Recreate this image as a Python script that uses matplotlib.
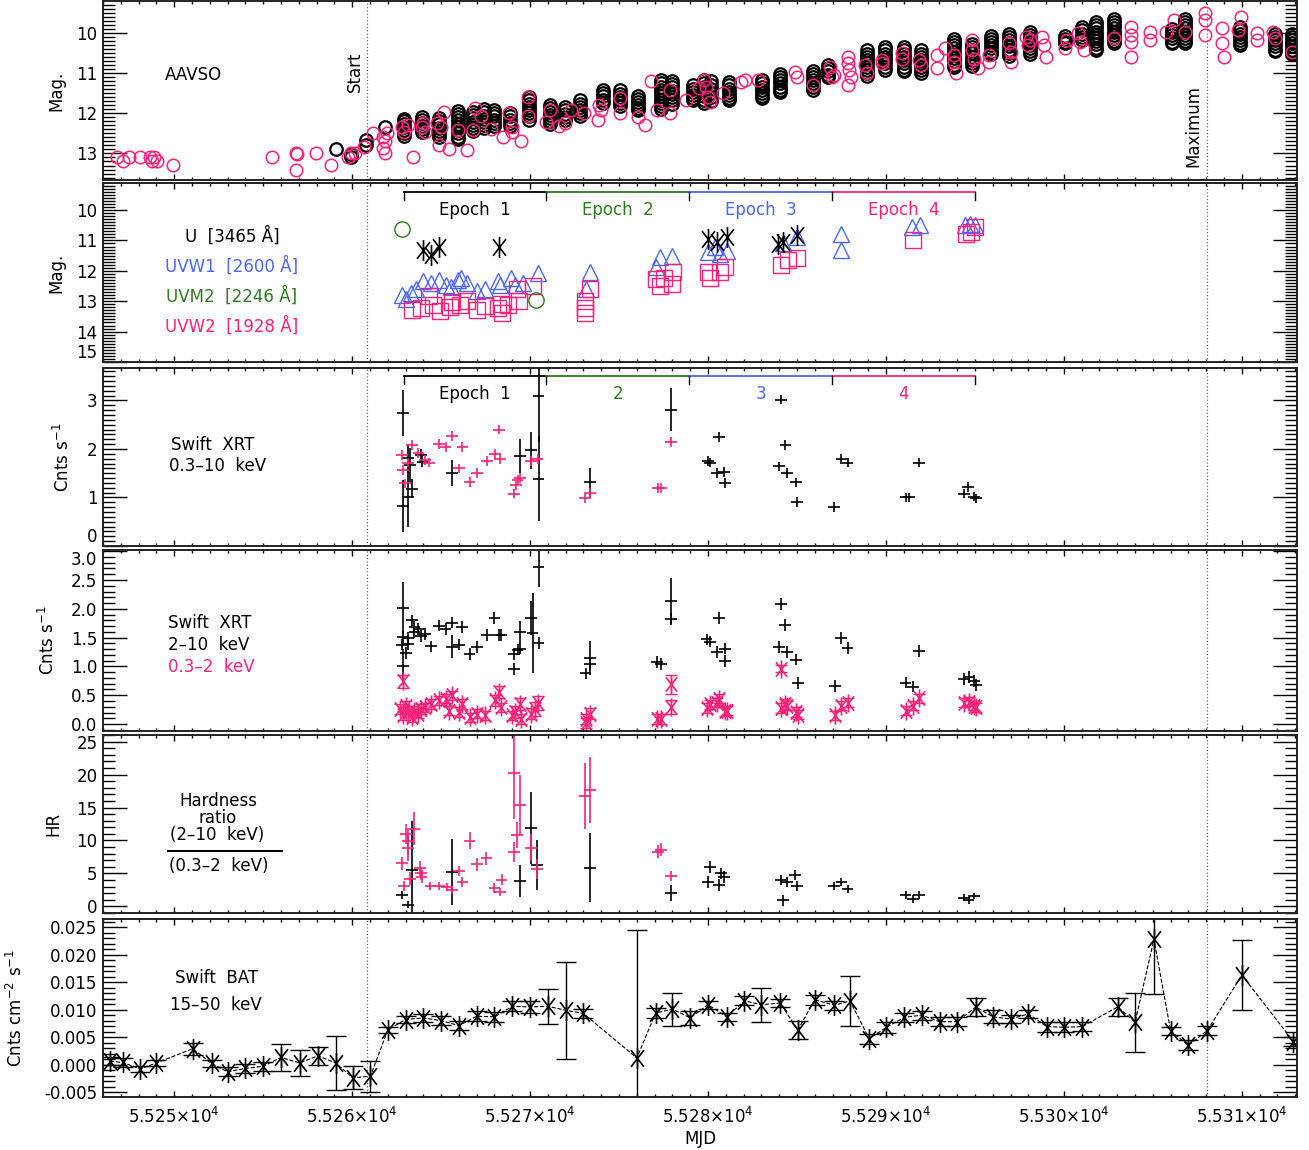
import matplotlib
matplotlib.use("Agg")
import matplotlib.pyplot as plt
import matplotlib.transforms as mtransforms
from matplotlib.path import Path
from matplotlib.ticker import MultipleLocator, FixedLocator, FuncFormatter

PINK = "#ff2277"
BLUE = "#4d66ff"
GREEN = "#2e7a1f"

# --- AAVSO: black = nightly stacks (MJD, list of mags), pink = single estimates
v_night_mjd = [55259.07, 55259.93, 55260.80, 55261.86, 55262.93, 55263.90, 55264.87, 55265.94,
               55266.80, 55267.40, 55267.95, 55268.85, 55269.92, 55271.11, 55271.97, 55272.83,
               55274.11, 55275.08, 55276.05, 55277.35, 55277.95, 55279.17, 55279.75, 55280.15,
               55281.19, 55283.04, 55284.02, 55285.88, 55286.75, 55288.93, 55289.92, 55291.00,
               55291.99, 55293.84, 55294.82, 55295.92, 55296.89, 55298.10, 55300.06, 55301.04,
               55301.80, 55302.79, 55306.06, 55306.82, 55309.88, 55311.84, 55312.82]
v_night_mag = [
    [12.89], [13.01, 13.08], [12.79, 12.67], [12.33],
    [12.14, 12.20, 12.27, 12.34, 12.41, 12.48, 12.56],
    [12.10, 12.17, 12.24, 12.31, 12.38, 12.46],
    [12.13, 12.20, 12.28, 12.36, 12.44, 12.52, 12.58],
    [11.94, 12.02, 12.10, 12.18, 12.26, 12.34, 12.42, 12.50, 12.58, 12.65],
    [11.97, 12.05, 12.13, 12.21, 12.29, 12.37, 12.45],
    [11.90, 11.98, 12.06, 12.14, 12.22, 12.30, 12.36],
    [11.92, 12.00, 12.08, 12.16, 12.24, 12.32],
    [12.00, 12.08, 12.16, 12.24, 12.32],
    [11.60, 11.68, 11.76, 11.84, 11.92, 12.00, 12.08, 12.16],
    [11.80, 11.88, 11.96, 12.04, 12.12, 12.20, 12.28],
    [11.85, 11.93, 12.01, 12.09, 12.16],
    [11.68, 11.76, 11.84, 11.92, 12.00, 12.07],
    [11.43, 11.50, 11.58, 11.66, 11.74],
    [11.43, 11.51, 11.59, 11.67, 11.75, 11.83],
    [11.56, 11.64, 11.72, 11.80, 11.88, 11.92],
    [11.18, 11.26, 11.34, 11.42, 11.50, 11.58, 11.66, 11.74, 11.82, 11.90],
    [11.20, 11.28, 11.36, 11.44, 11.52, 11.60, 11.68, 11.76],
    [11.31, 11.39, 11.47, 11.55, 11.63, 11.67],
    [11.18, 11.26, 11.34, 11.42, 11.50, 11.58, 11.66, 11.74],
    [11.20, 11.30, 11.40, 11.50, 11.60, 11.70],
    [11.23, 11.31, 11.39, 11.47, 11.55, 11.63, 11.67],
    [11.18, 11.26, 11.34, 11.42, 11.50, 11.58, 11.62],
    [11.02, 11.10, 11.18, 11.26, 11.34, 11.42, 11.46],
    [10.94, 11.02, 11.10, 11.18, 11.26, 11.34, 11.42],
    [10.80, 10.88, 10.96, 11.04, 11.09],
    [10.44, 10.52, 10.60, 10.68, 10.76, 10.84, 10.92, 11.00, 11.08],
    [10.36, 10.44, 10.52, 10.60, 10.68, 10.76, 10.84, 10.92],
    [10.36, 10.44, 10.52, 10.60, 10.68, 10.76, 10.84, 10.92, 10.96],
    [10.44, 10.52, 10.60, 10.68, 10.76, 10.84, 10.92, 11.00],
    [10.15, 10.23, 10.31, 10.39, 10.47, 10.55, 10.63, 10.71, 10.79, 10.84],
    [10.27, 10.35, 10.43, 10.51, 10.59, 10.67, 10.75, 10.83],
    [10.07, 10.15, 10.23, 10.31, 10.39, 10.47, 10.54],
    [10.02, 10.10, 10.18, 10.26, 10.34, 10.42, 10.50, 10.58],
    [9.98, 10.06, 10.14, 10.22, 10.30, 10.38, 10.46, 10.54],
    [10.07, 10.15, 10.22, 10.26],
    [9.86, 9.94, 10.02, 10.10, 10.17],
    [9.73, 9.81, 9.89, 9.97, 10.05, 10.13, 10.21, 10.29, 10.37, 10.42],
    [9.65, 9.73, 9.81, 9.89, 9.97, 10.05, 10.13, 10.21, 10.26],
    [9.90, 9.98, 10.06, 10.14, 10.22, 10.26],
    [9.65, 9.73, 9.81, 9.89, 9.97, 10.05, 10.13, 10.21, 10.26],
    [9.86, 9.94, 10.02, 10.10, 10.18, 10.26, 10.30],
    [10.02, 10.10, 10.18, 10.26, 10.34, 10.42, 10.46],
    [10.02, 10.10, 10.18, 10.26, 10.34, 10.42, 10.50, 10.54],
]

vis_mjd = [55246.81, 55247.13, 55247.46, 55248.10, 55248.64, 55248.85, 55248.75, 55249.02, 55249.93,
           55255.48, 55256.85, 55256.92, 55256.85, 55257.95, 55258.81, 55259.78, 55259.93, 55260.14,
           55260.67, 55261.15, 55261.75, 55261.86, 55261.75, 55261.86, 55261.97, 55262.83, 55262.93,
           55263.15, 55263.43, 55263.90, 55264.01, 55264.12, 55264.87, 55264.76, 55264.98, 55265.19,
           55265.45, 55265.94, 55266.48, 55266.80, 55266.91, 55267.24, 55267.78, 55268.46, 55268.80,
           55268.96, 55268.96, 55269.49, 55269.88, 55269.88, 55270.89, 55271.11, 55271.64, 55271.97,
           55272.29, 55273.04, 55273.79, 55273.90, 55274.00, 55275.08, 55275.08, 55276.05, 55276.48,
           55276.80, 55277.12, 55277.88, 55277.88, 55278.74, 55279.49,
           55279.77, 55279.88, 55279.99, 55280.10, 55280.86, 55281.84, 55282.06, 55282.83, 55284.89,
           55285.00, 55285.88, 55286.86, 55286.97, 55287.08, 55287.84, 55287.84, 55287.84, 55287.95,
           55288.06, 55288.82, 55288.93, 55289.80, 55289.80, 55290.89, 55290.89, 55291.88, 55291.99,
           55292.86, 55292.86, 55293.30, 55293.84, 55293.84, 55293.95, 55294.82, 55294.82, 55294.93,
           55295.15, 55295.80, 55295.80, 55296.89, 55297.00, 55297.00, 55297.88, 55297.99, 55298.10,
           55298.75, 55298.86, 55298.97, 55300.06, 55300.17, 55300.82, 55300.93, 55301.15, 55302.79,
           55303.77, 55303.77, 55303.77, 55303.77, 55304.86, 55304.86, 55305.73, 55306.17, 55306.82,
           55307.92, 55307.92, 55307.92, 55308.89, 55308.89, 55309.00, 55309.77, 55309.98, 55310.86,
           55310.86, 55311.73, 55311.84, 55312.82]
vis_mag = [13.08, 13.20, 13.08, 13.08, 13.08, 13.08, 13.20, 13.20, 13.28,
           13.09, 12.99, 13.01, 13.41, 12.99, 13.28, 13.08, 12.99, 12.99,
           12.83, 12.50, 12.58, 12.70, 12.87, 12.99, 12.50, 12.33, 12.46,
           12.29, 13.09, 12.33, 12.25, 12.46, 12.79, 12.25, 12.33, 11.96,
           12.89, 12.41, 12.91, 12.41, 11.88, 12.08, 12.40, 12.58, 12.00,
           12.33, 12.46, 12.70, 11.59, 12.08, 12.21, 11.92, 12.32, 12.25,
           11.92, 12.00, 12.17, 11.79, 11.92, 11.63, 12.00, 12.10, 12.29,
           11.19, 11.92, 11.42, 12.00, 11.67, 11.38,
           11.17, 11.34, 11.59, 11.71, 11.50, 11.22, 11.17, 11.17, 10.97,
           11.09, 11.30, 10.84, 11.09, 11.05, 10.60, 10.76, 11.30, 10.93,
           11.09, 10.80, 11.01, 10.68, 10.76, 10.51, 10.64, 10.68, 10.80,
           10.55, 10.88, 10.39, 10.55, 10.72, 11.01, 10.18, 10.43, 10.64,
           10.88, 10.55, 10.72, 10.26, 10.47, 10.72, 10.10, 10.31, 10.18,
           10.10, 10.31, 10.60, 10.39, 10.18, 10.01, 10.22, 10.43, 10.14,
           9.85, 10.06, 10.22, 10.60, 9.98, 10.18, 9.98, 9.68, 9.98,
           9.52, 9.68, 10.06, 9.89, 10.26, 10.60, 9.93, 9.60, 10.01,
           10.18, 9.98, 10.14, 10.47]

# --- Swift UVOT
u_mjd = [55264.00, 55264.44, 55264.87, 55268.27, 55280.00, 55280.50, 55281.05, 55283.95, 55284.23, 55284.98]
u_mag = [11.33, 11.48, 11.22, 11.22, 10.94, 11.05, 10.89, 11.11, 11.05, 10.83]
uvw1_mjd = [55262.83, 55263.04, 55263.30, 55263.58, 55264.01, 55264.44, 55264.87, 55265.30, 55265.58,
            55265.94, 55266.10, 55266.48, 55267.02, 55267.45, 55268.20, 55268.31, 55268.95, 55269.17,
            55269.60, 55270.46, 55273.37, 55273.15, 55277.10, 55277.30, 55277.96, 55280.00, 55280.40,
            55280.70, 55281.05, 55284.23, 55284.98, 55287.50, 55287.50, 55291.44, 55291.90, 55294.44,
            55294.72, 55295.00]
uvw1_mag = [12.78, 12.94, 12.72, 12.61, 12.33, 12.39, 12.30, 12.48, 12.52,
            12.30, 12.22, 12.39, 12.67, 12.61, 12.33, 12.48, 12.22, 12.48,
            12.39, 12.08, 12.03, 12.61, 11.89, 11.55, 11.52, 11.39, 11.22,
            11.45, 11.36, 11.10, 10.90, 10.78, 11.33, 10.55, 10.50, 10.50,
            10.45, 10.50]
uvm2_mjd = [55262.83, 55270.31]
uvm2_mag = [10.61, 12.97]
uvw2_mjd = [55263.37, 55263.86, 55264.55, 55264.93, 55265.52, 55265.62, 55266.05, 55266.48, 55267.02,
            55267.45, 55268.20, 55268.42, 55268.38, 55268.74, 55269.28, 55269.39, 55270.14, 55264.33,
            55273.10, 55273.10, 55273.10, 55273.37, 55277.10, 55277.50, 55277.96, 55278.05, 55277.30,
            55280.00, 55280.10, 55280.70, 55280.95, 55284.10, 55284.50, 55285.00, 55291.50, 55294.50,
            55294.80, 55295.00]
uvw2_mag = [13.28, 13.22, 13.11, 13.33, 13.19, 13.03, 13.14, 13.00, 13.28,
            13.17, 13.22, 13.39, 13.08, 13.11, 12.61, 13.00, 12.50, 12.83,
            13.00, 13.22, 13.39, 12.61, 12.28, 12.22, 12.44, 12.05, 12.50,
            12.05, 12.22, 12.05, 11.86, 11.82, 11.63, 11.58, 11.00, 10.78,
            10.72, 10.55]

# --- Swift XRT 0.3-10 keV
xrt_mjd = [55262.87, 55262.87, 55263.15, 55263.26, 55263.37, 55263.15, 55263.85, 55263.95, 55265.60,
           55269.44, 55270.06, 55270.48, 55270.48, 55273.35, 55277.94, 55280.00, 55280.10, 55280.60,
           55280.50, 55280.90, 55280.95, 55284.10, 55284.35, 55284.00, 55284.45, 55284.93, 55285.00,
           55287.10, 55287.50, 55287.84, 55291.10, 55291.30, 55291.85, 55294.40, 55294.60, 55294.95,
           55295.05]
xrt_rate = [2.74, 0.83, 1.00, 1.67, 1.18, 1.81, 1.88, 1.74, 1.50,
            1.85, 1.97, 3.10, 1.39, 1.31, 2.81, 1.75, 1.72, 2.25,
            1.50, 1.52, 1.30, 3.02, 2.08, 1.64, 1.50, 1.31, 0.90,
            0.81, 1.80, 1.72, 1.00, 1.00, 1.72, 1.08, 1.21, 1.02,
            0.98]
xrt_err = [0.47, 0.54, 0.60, 0.35, 0.20, 0.30, 0.12, 0.12, 0.27,
           0.35, 0.38, 0.95, 0.88, 0.30, 0.44, 0.10, 0.10, 0.10,
           0.10, 0.10, 0.10, 0.10, 0.10, 0.10, 0.10, 0.10, 0.10,
           0.10, 0.10, 0.10, 0.10, 0.10, 0.10, 0.10, 0.10, 0.10,
           0.10]
xrt2_mjd = [55262.80, 55262.87, 55262.96, 55263.37, 55263.15, 55263.73, 55264.10, 55264.30, 55264.90,
            55265.25, 55265.60, 55266.20, 55266.00, 55266.60, 55267.00, 55267.57, 55268.03, 55268.26,
            55268.30, 55269.10, 55269.20, 55269.30, 55269.44, 55270.06, 55270.42, 55273.10, 55273.35,
            55277.20, 55277.35, 55277.94]
xrt2_rate = [1.88, 1.57, 1.29, 2.08, 1.72, 1.92, 1.78, 1.72, 2.11,
             2.04, 2.27, 2.04, 1.60, 1.32, 1.50, 1.75, 1.90, 2.40,
             1.80, 1.08, 1.26, 1.36, 1.40, 1.75, 1.80, 0.98, 1.10,
             1.20, 1.20, 2.14]

# --- Swift XRT split bands
hard_mjd = [55262.87, 55262.87, 55262.80, 55262.87, 55263.03, 55263.15, 55263.15, 55263.37, 55263.50,
            55263.50, 55263.73, 55263.85, 55264.08, 55264.43, 55264.90, 55265.25, 55265.60, 55265.60,
            55266.00, 55266.17, 55266.60, 55267.00, 55267.57, 55268.00, 55268.26, 55268.39, 55269.10,
            55269.10, 55269.30, 55269.44, 55269.44, 55270.07, 55270.14, 55270.48, 55270.48, 55273.12,
            55273.35, 55273.35, 55277.12, 55277.36, 55277.94, 55277.94, 55279.92, 55280.11, 55280.62,
            55280.50, 55280.97, 55280.97, 55284.11, 55284.34, 55284.00, 55284.46, 55284.93, 55285.04,
            55287.13, 55287.49, 55287.84, 55291.10, 55291.50, 55291.85, 55294.40, 55294.64, 55294.94,
            55295.06]
hard_rate = [2.02, 1.51, 1.38, 1.00, 1.23, 1.39, 1.50, 1.80, 1.59,
             1.68, 1.65, 1.53, 1.56, 1.35, 1.71, 1.65, 1.76, 1.34,
             1.38, 1.68, 1.22, 1.34, 1.55, 1.84, 1.55, 1.55, 1.22,
             0.96, 1.29, 1.31, 1.59, 1.84, 1.58, 2.72, 1.41, 0.88,
             1.15, 1.04, 1.08, 1.04, 2.13, 1.82, 1.47, 1.43, 1.84,
             1.25, 1.31, 1.09, 2.08, 1.72, 1.34, 1.25, 1.12, 0.71,
             0.66, 1.49, 1.32, 0.72, 0.65, 1.27, 0.78, 0.82, 0.75,
             0.68]
hard_err = [0.45, 0.10, 0.10, 0.30, 0.10, 0.10, 0.10, 0.10, 0.10,
            0.10, 0.10, 0.10, 0.10, 0.10, 0.10, 0.10, 0.10, 0.20,
            0.10, 0.10, 0.10, 0.10, 0.10, 0.10, 0.10, 0.10, 0.10,
            0.10, 0.10, 0.10, 0.20, 0.30, 0.70, 0.35, 0.10, 0.10,
            0.30, 0.10, 0.10, 0.10, 0.40, 0.10, 0.10, 0.10, 0.10,
            0.10, 0.10, 0.10, 0.10, 0.10, 0.10, 0.10, 0.10, 0.10,
            0.10, 0.10, 0.10, 0.10, 0.10, 0.10, 0.10, 0.10, 0.10,
            0.10]
soft_mjd = [55262.87, 55262.69, 55262.87, 55263.03, 55263.15, 55263.38, 55263.50, 55263.73, 55263.85,
            55264.08, 55264.43, 55264.90, 55265.25, 55265.60, 55265.43, 55265.99, 55266.17, 55266.60,
            55267.00, 55267.46, 55268.04, 55268.28, 55268.39, 55268.97, 55269.16, 55269.44, 55269.48,
            55270.07, 55270.25, 55270.42, 55273.12, 55273.35, 55273.16, 55277.12, 55277.36, 55277.94,
            55277.94, 55279.92, 55280.11, 55280.50, 55280.62, 55280.97, 55281.09, 55284.11, 55284.11,
            55284.34, 55284.46, 55284.93, 55285.04, 55287.13, 55287.49, 55287.84, 55291.10, 55291.50,
            55291.85, 55294.40, 55294.64, 55294.94, 55295.06]
soft_rate = [0.74, 0.26, 0.15, 0.32, 0.21, 0.12, 0.23, 0.18, 0.26,
             0.29, 0.35, 0.41, 0.44, 0.50, 0.23, 0.21, 0.35, 0.12,
             0.18, 0.15, 0.41, 0.56, 0.29, 0.15, 0.21, 0.35, 0.09,
             0.18, 0.26, 0.37, 0.09, 0.18, 0.02, 0.09, 0.09, 0.69,
             0.29, 0.28, 0.34, 0.37, 0.44, 0.22, 0.23, 0.96, 0.28,
             0.35, 0.32, 0.21, 0.16, 0.15, 0.32, 0.37, 0.23, 0.32,
             0.45, 0.37, 0.39, 0.32, 0.29]
soft_err = [0.12, 0.08, 0.08, 0.08, 0.08, 0.08, 0.08, 0.08, 0.08,
            0.08, 0.08, 0.08, 0.08, 0.08, 0.08, 0.08, 0.08, 0.08,
            0.08, 0.08, 0.10, 0.10, 0.08, 0.08, 0.10, 0.10, 0.08,
            0.10, 0.12, 0.12, 0.08, 0.10, 0.08, 0.08, 0.08, 0.17,
            0.12, 0.08, 0.08, 0.08, 0.08, 0.08, 0.08, 0.06, 0.08,
            0.08, 0.08, 0.08, 0.08, 0.08, 0.08, 0.08, 0.08, 0.08,
            0.08, 0.08, 0.08, 0.08, 0.08]

# --- hardness ratio
hr_mjd = [55262.80, 55263.15, 55263.37, 55265.60, 55269.44, 55270.06, 55270.40, 55273.35, 55277.94,
          55280.10, 55280.00, 55280.60, 55280.90, 55280.75, 55284.10, 55284.20, 55284.45, 55284.90,
          55285.00, 55287.10, 55287.50, 55287.84, 55291.10, 55291.50, 55291.85, 55294.40, 55294.64,
          55294.95]
hr_val = [1.78, 0.25, 5.50, 5.25, 3.83, 11.90, 6.28, 5.87, 2.08,
          6.02, 3.72, 3.31, 4.49, 5.00, 3.98, 0.92, 3.72, 4.74,
          3.10, 3.10, 3.72, 2.60, 1.68, 1.17, 1.68, 1.34, 0.92,
          1.58]
hr_err = [0.6, 0.5, 7.5, 5.0, 2.4, 5.5, 3.8, 5.2, 1.2,
          0.9, 0.9, 0.9, 0.9, 0.9, 0.8, 0.8, 0.8, 0.8,
          0.8, 0.6, 0.6, 0.6, 0.6, 0.6, 0.6, 0.5, 0.5,
          0.5]
hr2_mjd = [55262.80, 55262.90, 55263.03, 55263.15, 55263.15, 55263.50, 55263.26, 55263.80, 55263.85,
           55263.90, 55264.40, 55264.90, 55265.35, 55265.60, 55266.00, 55266.20, 55266.60, 55267.00,
           55267.55, 55268.00, 55268.30, 55268.40, 55269.10, 55269.10, 55269.25, 55269.44, 55270.06,
           55270.40, 55273.10, 55273.35, 55277.20, 55277.35, 55277.94]
hr2_val = [6.53, 3.10, 10.97, 9.85, 8.93, 11.79, 4.23, 5.76, 5.00,
           4.49, 3.10, 3.10, 2.96, 2.55, 5.36, 3.72, 9.95, 6.37,
           7.29, 2.80, 2.19, 4.07, 8.21, 20.30, 10.87, 15.36, 8.93,
           5.67, 16.69, 17.70, 8.32, 8.58, 4.64]
hr2_err = [1.0, 0.8, 1.5, 2.0, 2.0, 2.5, 1.0, 1.2, 1.0,
           1.0, 0.6, 0.6, 0.6, 0.6, 0.8, 0.8, 1.3, 1.0,
           1.0, 0.8, 0.6, 0.8, 1.5, 7.0, 2.0, 4.5, 2.0,
           1.5, 5.0, 5.0, 1.0, 1.0, 0.8]

# --- Swift BAT 15-50 keV daily
bat_mjd = [55246.40, 55247.10, 55248.10, 55249.00, 55251.05, 55252.10, 55253.00, 55254.00, 55255.00,
           55256.00, 55257.06, 55258.08, 55259.07, 55260.04, 55261.03, 55262.00, 55263.00, 55264.00,
           55265.00, 55266.00, 55267.00, 55268.00, 55269.00, 55270.00, 55271.00, 55272.00, 55273.00,
           55276.00, 55277.06, 55278.00, 55279.00, 55280.00, 55281.05, 55282.05, 55283.00, 55284.05,
           55285.05, 55286.00, 55287.10, 55287.98, 55289.06, 55290.03, 55291.04, 55292.00, 55293.03,
           55294.00, 55295.06, 55296.00, 55297.00, 55298.00, 55299.05, 55300.03, 55301.00, 55303.03,
           55304.00, 55305.06, 55306.00, 55307.00, 55308.06, 55310.00, 55312.90]
bat_rate = [0.0006, 0.0004, -0.0008, 0.0003, 0.0029, 0.0002, -0.0013, -0.0007, -0.0003,
            0.0013, 0.0003, 0.0016, 0.0003, -0.0024, -0.0021, 0.0063, 0.0082, 0.0085,
            0.0080, 0.0071, 0.0088, 0.0087, 0.0106, 0.0105, 0.0106, 0.0099, 0.0093,
            0.0012, 0.0094, 0.0101, 0.0085, 0.0109, 0.0087, 0.0116, 0.0109, 0.0112,
            0.0063, 0.0118, 0.0108, 0.0116, 0.0047, 0.0068, 0.0086, 0.0090, 0.0078,
            0.0078, 0.0105, 0.0087, 0.0083, 0.0092, 0.0069, 0.0068, 0.0069, 0.0105,
            0.0077, 0.0228, 0.0061, 0.0035, 0.0062, 0.0163, 0.0042]
bat_err = [0.0007, 0.0008, 0.0006, 0.0006, 0.0011, 0.0007, 0.0008, 0.0008, 0.0008,
           0.0024, 0.0023, 0.0016, 0.0049, 0.0021, 0.0028, 0.0006, 0.0007, 0.0007,
           0.0008, 0.0008, 0.0009, 0.0009, 0.0009, 0.0011, 0.0032, 0.0088, 0.0009,
           0.0233, 0.0009, 0.0030, 0.0013, 0.0007, 0.0007, 0.0008, 0.0031, 0.0008,
           0.0016, 0.0009, 0.0008, 0.0046, 0.0009, 0.0010, 0.0008, 0.0008, 0.0008,
           0.0008, 0.0017, 0.0012, 0.0008, 0.0008, 0.0009, 0.0009, 0.0008, 0.0016,
           0.0054, 0.0100, 0.0008, 0.0009, 0.0008, 0.0063, 0.0008]

start_mjd = 55260.85
max_mjd = 55308.03
epoch_edges = [55262.9, 55270.9, 55278.95, 55286.97, 55295.0]
epoch_colors = ["black", GREEN, BLUE, PINK]

plt.rcParams["font.family"] = ["DejaVu Sans"]
plt.rcParams["font.size"] = 12
plt.rcParams["mathtext.default"] = "regular"

W, H = 1309, 1150
fig = plt.figure(figsize=(W / 100, H / 100), dpi=100)

# panel top / bottom in pixels
panel_px = [(1, 180), (183, 362), (368, 546), (550, 731), (735, 913), (919, 1097)]
axes = []
for top, bot in panel_px:
    ax = fig.add_axes([103 / W, 1 - bot / H, 1194 / W, (bot - top) / H],
                      sharex=axes[0] if axes else None)
    axes.append(ax)

# IDL style asterisk
star = Path([(0, -1), (0, 1), (-0.62, -0.8), (0.62, 0.8), (-0.62, 0.8), (0.62, -0.8)],
            [Path.MOVETO, Path.LINETO] * 3)

def ptext(ax, px, py, s, panel, **kw):
    # place text by pixel position of the reference, inside a panel
    top, bot = panel_px[panel]
    ax.text((px - 103) / 1194, (bot - py) / (bot - top), s, transform=ax.transAxes,
            ha=kw.pop("ha", "center"), va="center", **kw)

def ylab(ax, s, center_px):
    # y label centred on a pixel column of the reference
    ax.set_ylabel(s)
    ax.yaxis.set_label_coords((center_px + 8 - 103) / 1194, 0.5)

for i, ax in enumerate(axes):
    ax.set_xlim(55246.0, 55313.1)
    ax.tick_params(which="both", direction="in", top=True, right=True, labelsize=12, width=1.0)
    ax.tick_params(axis="y", which="major", length=17, pad=4)
    ax.tick_params(axis="y", which="minor", length=8.5)
    ax.tick_params(axis="x", which="major", length=4, pad=7)
    ax.tick_params(axis="x", which="minor", length=2)
    for s in ax.spines.values():
        s.set_linewidth(1.4)
        s.set_color("#222222")
    ax.axvline(start_mjd, color="#666666", ls=":", lw=0.9, zorder=0)
    ax.axvline(max_mjd, color="#666666", ls=":", lw=0.9, zorder=0)
    if i < 5:
        ax.tick_params(labelbottom=False)

axes[-1].xaxis.set_major_locator(FixedLocator([55250, 55260, 55270, 55280, 55290, 55300, 55310]))
axes[-1].xaxis.set_minor_locator(MultipleLocator(1))
axes[-1].xaxis.set_major_formatter(FuncFormatter(lambda v, p: r"%.3f$\times$10$^{4}$" % (v / 1e4)))

# ---- panel 1: AAVSO
ax = axes[0]
for mjd, mags in zip(v_night_mjd, v_night_mag):
    ax.plot([mjd] * len(mags), mags, "o", mfc="none", mec="black", ms=9, mew=1.6)
ax.plot(vis_mjd, vis_mag, "o", mfc="none", mec=PINK, ms=9, mew=1.1)
ax.set_ylim(13.66, 9.21)
ax.yaxis.set_major_locator(FixedLocator([10, 11, 12, 13]))
ax.yaxis.set_minor_locator(MultipleLocator(0.1))
ylab(ax, "Mag.", 57)
ptext(ax, 193, 75, "AAVSO", 0)
ptext(ax, 355, 72, "Start", 0, rotation=90)
ptext(ax, 1193, 126, "Maximum", 0, rotation=90)

# ---- epoch brackets
def epochs(ax, y_line, y_tick, y_lab, labels):
    tr = mtransforms.blended_transform_factory(ax.transData, ax.transAxes)
    for k in range(4):
        x0, x1 = epoch_edges[k], epoch_edges[k + 1]
        ax.plot([x0, x1], [y_line, y_line], color=epoch_colors[k], lw=1.3, transform=tr)
        ax.text((x0 + x1) / 2, y_lab, labels[k], color=epoch_colors[k], transform=tr,
                ha="center", va="center", fontsize=12)
    for x in epoch_edges:
        ax.plot([x, x], [y_line, y_tick], color="black", lw=1.0, transform=tr)

# ---- panel 2: UVOT
ax = axes[1]
ax.plot(uvw1_mjd, uvw1_mag, "^", mfc="none", mec=BLUE, ms=12, mew=1.0)
ax.plot(uvw2_mjd, uvw2_mag, "s", mfc="none", mec=PINK, ms=11, mew=1.0)
ax.plot(uvm2_mjd, uvm2_mag, "o", mfc="none", mec=GREEN, ms=11, mew=1.0)
ax.plot(u_mjd, u_mag, marker=star, ls="none", color="black", ms=15, mew=1.2)
ax.set_ylim(15.0, 9.11)
ax.yaxis.set_major_locator(FixedLocator([10, 11, 12, 13, 14, 15]))
ax.yaxis.set_minor_locator(MultipleLocator(0.1))
ylab(ax, "Mag.", 57)
epochs(ax, 0.950, 0.905, 0.849, ["Epoch  1", "Epoch  2", "Epoch  3", "Epoch  4"])
ptext(ax, 232, 236, "U  [3465 Å]", 1, color="black")
ptext(ax, 232, 266, "UVW1  [2600 Å]", 1, color=BLUE)
ptext(ax, 232, 296, "UVM2  [2246 Å]", 1, color=GREEN)
ptext(ax, 232, 326, "UVW2  [1928 Å]", 1, color=PINK)

# ---- panel 3: XRT 0.3-10 keV
ax = axes[2]
ax.errorbar(xrt_mjd, xrt_rate, yerr=xrt_err, xerr=0.33, fmt="none", ecolor="black", elinewidth=1.2)
ax.errorbar(xrt2_mjd, xrt2_rate, yerr=0.1, xerr=0.33, fmt="none", ecolor=PINK, elinewidth=1.2)
ax.set_ylim(0, 3.67)
ax.yaxis.set_major_locator(FixedLocator([0, 1, 2, 3]))
ax.yaxis.set_minor_locator(MultipleLocator(0.1))
ylab(ax, r"Cnts s$^{-1}$", 65)
epochs(ax, 0.955, 0.91, 0.854, ["Epoch  1", "2", "3", "4"])
ptext(ax, 213, 445, "Swift  XRT", 2)
ptext(ax, 218, 466, "0.3–10  keV", 2)

# ---- panel 4: XRT bands
ax = axes[3]
ax.errorbar(hard_mjd, hard_rate, yerr=hard_err, xerr=0.33, fmt="none", ecolor="black", elinewidth=1.2)
ax.errorbar(soft_mjd, soft_rate, yerr=soft_err, fmt="none", ecolor=PINK, elinewidth=1.0,
            capsize=4.5, capthick=1.0)
ax.plot(soft_mjd, soft_rate, marker=star, ls="none", color=PINK, ms=13, mew=1.2)
ax.set_ylim(-0.12, 3.02)
ax.yaxis.set_major_locator(MultipleLocator(0.5))
ax.yaxis.set_minor_locator(MultipleLocator(0.1))
ax.yaxis.set_major_formatter(FuncFormatter(lambda v, p: "%.1f" % v))
ylab(ax, r"Cnts s$^{-1}$", 50)
ptext(ax, 168, 623, "Swift  XRT", 3, ha="left")
ptext(ax, 168, 645, "2–10  keV", 3, ha="left")
ptext(ax, 168, 667, "0.3–2  keV", 3, ha="left", color=PINK)

# ---- panel 5: hardness ratio
ax = axes[4]
ax.errorbar(hr_mjd, hr_val, yerr=hr_err, xerr=0.33, fmt="none", ecolor="black", elinewidth=1.2)
ax.errorbar(hr2_mjd, hr2_val, yerr=hr2_err, xerr=0.33, fmt="none", ecolor=PINK, elinewidth=1.2)
ax.set_ylim(-1.0, 26.0)
ax.yaxis.set_major_locator(MultipleLocator(5))
ax.yaxis.set_minor_locator(MultipleLocator(1))
ylab(ax, "HR", 54)
ptext(ax, 218, 801, "Hardness", 4)
ptext(ax, 218, 818, "ratio", 4)
ptext(ax, 217, 835, "(2–10  keV)", 4)
ax.plot([(168 - 103) / 1194, (282 - 103) / 1194], [0.347, 0.347], color="black", lw=1.5,
        transform=ax.transAxes)
ptext(ax, 219, 866, "(0.3–2  keV)", 4)

# ---- panel 6: BAT
ax = axes[5]
ax.plot(bat_mjd, bat_rate, color="black", ls="--", lw=0.8)
ax.errorbar(bat_mjd, bat_rate, yerr=bat_err, fmt="none", ecolor="black", elinewidth=1.0,
            capsize=7, capthick=1.0)
ax.plot(bat_mjd, bat_rate, marker=star, ls="none", color="black", ms=15, mew=1.2)
ax.set_ylim(-0.0059, 0.0265)
ax.yaxis.set_major_locator(MultipleLocator(0.005))
ax.yaxis.set_minor_locator(MultipleLocator(0.001))
ax.yaxis.set_major_formatter(FuncFormatter(lambda v, p: "%.3f" % v if abs(v) > 1e-9 else "0.000"))
ylab(ax, r"Cnts cm$^{-2}$ s$^{-1}$", 18)
ax.set_xlabel("MJD", labelpad=2)
ptext(ax, 217, 978, "Swift  BAT", 5)
ptext(ax, 216, 1005, "15–50  keV", 5)

# keep edge tick labels of stacked panels inside their own frame
fig.canvas.draw()
for ax, value, va in [(axes[1], 15, "bottom"), (axes[2], 0, "bottom"), (axes[3], 3.0, "top")]:
    for t in ax.yaxis.get_major_ticks():
        if abs(t.get_loc() - value) < 1e-6:
            t.label1.set_va(va)

fig.savefig("out.png", dpi=100)
